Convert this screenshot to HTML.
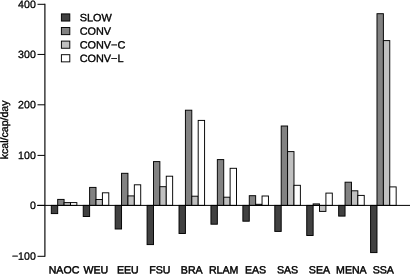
<!DOCTYPE html><html><head><meta charset="utf-8"><title>chart</title><style>html,body{margin:0;padding:0;background:#fff}svg{display:block}text{font-family:"Liberation Sans",Arial,sans-serif;font-size:10.6px;fill:#000;stroke:#000;stroke-width:0.28px}</style></head><body>
<svg width="410" height="274" viewBox="0 0 410 274">
<rect width="410" height="274" fill="#fff"/>
<rect x="51.30" y="205.40" width="6.39" height="8.20" fill="#414141" stroke="#000" stroke-width="0.95"/>
<rect x="57.69" y="199.40" width="6.39" height="6.00" fill="#828282" stroke="#000" stroke-width="0.95"/>
<rect x="64.08" y="202.60" width="6.39" height="2.80" fill="#c0c0c0" stroke="#000" stroke-width="0.95"/>
<rect x="70.47" y="202.60" width="6.39" height="2.80" fill="#ffffff" stroke="#000" stroke-width="0.95"/>
<rect x="83.23" y="205.40" width="6.39" height="11.10" fill="#414141" stroke="#000" stroke-width="0.95"/>
<rect x="89.62" y="187.40" width="6.39" height="18.00" fill="#828282" stroke="#000" stroke-width="0.95"/>
<rect x="96.01" y="199.50" width="6.39" height="5.90" fill="#c0c0c0" stroke="#000" stroke-width="0.95"/>
<rect x="102.40" y="192.80" width="6.39" height="12.60" fill="#ffffff" stroke="#000" stroke-width="0.95"/>
<rect x="115.16" y="205.40" width="6.39" height="23.60" fill="#414141" stroke="#000" stroke-width="0.95"/>
<rect x="121.55" y="173.30" width="6.39" height="32.10" fill="#828282" stroke="#000" stroke-width="0.95"/>
<rect x="127.94" y="195.90" width="6.39" height="9.50" fill="#c0c0c0" stroke="#000" stroke-width="0.95"/>
<rect x="134.33" y="184.80" width="6.39" height="20.60" fill="#ffffff" stroke="#000" stroke-width="0.95"/>
<rect x="147.09" y="205.40" width="6.39" height="39.20" fill="#414141" stroke="#000" stroke-width="0.95"/>
<rect x="153.48" y="161.60" width="6.39" height="43.80" fill="#828282" stroke="#000" stroke-width="0.95"/>
<rect x="159.87" y="186.70" width="6.39" height="18.70" fill="#c0c0c0" stroke="#000" stroke-width="0.95"/>
<rect x="166.26" y="176.20" width="6.39" height="29.20" fill="#ffffff" stroke="#000" stroke-width="0.95"/>
<rect x="179.02" y="205.40" width="6.39" height="28.10" fill="#414141" stroke="#000" stroke-width="0.95"/>
<rect x="185.41" y="110.20" width="6.39" height="95.20" fill="#828282" stroke="#000" stroke-width="0.95"/>
<rect x="191.80" y="196.20" width="6.39" height="9.20" fill="#c0c0c0" stroke="#000" stroke-width="0.95"/>
<rect x="198.19" y="120.40" width="6.39" height="85.00" fill="#ffffff" stroke="#000" stroke-width="0.95"/>
<rect x="210.95" y="205.40" width="6.39" height="18.80" fill="#414141" stroke="#000" stroke-width="0.95"/>
<rect x="217.34" y="159.60" width="6.39" height="45.80" fill="#828282" stroke="#000" stroke-width="0.95"/>
<rect x="223.73" y="197.20" width="6.39" height="8.20" fill="#c0c0c0" stroke="#000" stroke-width="0.95"/>
<rect x="230.12" y="168.30" width="6.39" height="37.10" fill="#ffffff" stroke="#000" stroke-width="0.95"/>
<rect x="242.88" y="205.40" width="6.39" height="15.80" fill="#414141" stroke="#000" stroke-width="0.95"/>
<rect x="249.27" y="195.70" width="6.39" height="9.70" fill="#828282" stroke="#000" stroke-width="0.95"/>
<rect x="255.66" y="204.30" width="6.39" height="1.10" fill="#c0c0c0" stroke="#000" stroke-width="0.95"/>
<rect x="262.05" y="196.00" width="6.39" height="9.40" fill="#ffffff" stroke="#000" stroke-width="0.95"/>
<rect x="274.81" y="205.40" width="6.39" height="26.00" fill="#414141" stroke="#000" stroke-width="0.95"/>
<rect x="281.20" y="126.00" width="6.39" height="79.40" fill="#828282" stroke="#000" stroke-width="0.95"/>
<rect x="287.59" y="151.60" width="6.39" height="53.80" fill="#c0c0c0" stroke="#000" stroke-width="0.95"/>
<rect x="293.98" y="185.30" width="6.39" height="20.10" fill="#ffffff" stroke="#000" stroke-width="0.95"/>
<rect x="306.74" y="205.40" width="6.39" height="30.10" fill="#414141" stroke="#000" stroke-width="0.95"/>
<rect x="313.13" y="203.90" width="6.39" height="1.50" fill="#828282" stroke="#000" stroke-width="0.95"/>
<rect x="319.52" y="205.40" width="6.39" height="6.00" fill="#c0c0c0" stroke="#000" stroke-width="0.95"/>
<rect x="325.91" y="193.10" width="6.39" height="12.30" fill="#ffffff" stroke="#000" stroke-width="0.95"/>
<rect x="338.67" y="205.40" width="6.39" height="10.70" fill="#414141" stroke="#000" stroke-width="0.95"/>
<rect x="345.06" y="182.20" width="6.39" height="23.20" fill="#828282" stroke="#000" stroke-width="0.95"/>
<rect x="351.45" y="190.80" width="6.39" height="14.60" fill="#c0c0c0" stroke="#000" stroke-width="0.95"/>
<rect x="357.84" y="195.40" width="6.39" height="10.00" fill="#ffffff" stroke="#000" stroke-width="0.95"/>
<rect x="370.60" y="205.40" width="6.39" height="47.20" fill="#414141" stroke="#000" stroke-width="0.95"/>
<rect x="376.99" y="13.70" width="6.39" height="191.70" fill="#828282" stroke="#000" stroke-width="0.95"/>
<rect x="383.38" y="40.60" width="6.39" height="164.80" fill="#c0c0c0" stroke="#000" stroke-width="0.95"/>
<rect x="389.77" y="186.90" width="6.39" height="18.50" fill="#ffffff" stroke="#000" stroke-width="0.95"/>
<line x1="37.2" y1="205.4" x2="410" y2="205.4" stroke="#000" stroke-width="1.0"/>
<line x1="44.9" y1="3.8" x2="44.9" y2="256.8" stroke="#000" stroke-width="1.15"/>
<line x1="37.5" y1="4.30" x2="44.9" y2="4.30" stroke="#000" stroke-width="1.0"/>
<text transform="translate(35.80,8.10) rotate(0.05)" text-anchor="end">400</text>
<line x1="37.5" y1="54.45" x2="44.9" y2="54.45" stroke="#000" stroke-width="1.0"/>
<text transform="translate(35.80,57.95) rotate(0.05)" text-anchor="end">300</text>
<line x1="37.5" y1="104.80" x2="44.9" y2="104.80" stroke="#000" stroke-width="1.0"/>
<text transform="translate(35.80,108.30) rotate(0.05)" text-anchor="end">200</text>
<line x1="37.5" y1="155.40" x2="44.9" y2="155.40" stroke="#000" stroke-width="1.0"/>
<text transform="translate(35.80,158.90) rotate(0.05)" text-anchor="end">100</text>
<line x1="37.5" y1="205.40" x2="44.9" y2="205.40" stroke="#000" stroke-width="1.0"/>
<text transform="translate(35.80,208.90) rotate(0.05)" text-anchor="end">0</text>
<line x1="37.5" y1="256.30" x2="44.9" y2="256.30" stroke="#000" stroke-width="1.0"/>
<text transform="translate(35.80,259.80) rotate(0.05)" text-anchor="end">−100</text>
<text transform="translate(63.98,273.60) rotate(0.05)" text-anchor="middle" style="stroke-width:0.45px">NAOC</text>
<text transform="translate(95.91,273.60) rotate(0.05)" text-anchor="middle" style="stroke-width:0.45px">WEU</text>
<text transform="translate(127.84,273.60) rotate(0.05)" text-anchor="middle" style="stroke-width:0.45px">EEU</text>
<text transform="translate(159.77,273.60) rotate(0.05)" text-anchor="middle" style="stroke-width:0.45px">FSU</text>
<text transform="translate(191.70,273.60) rotate(0.05)" text-anchor="middle" style="stroke-width:0.45px">BRA</text>
<text transform="translate(223.63,273.60) rotate(0.05)" text-anchor="middle" style="stroke-width:0.45px">RLAM</text>
<text transform="translate(255.56,273.60) rotate(0.05)" text-anchor="middle" style="stroke-width:0.45px">EAS</text>
<text transform="translate(287.49,273.60) rotate(0.05)" text-anchor="middle" style="stroke-width:0.45px">SAS</text>
<text transform="translate(319.42,273.60) rotate(0.05)" text-anchor="middle" style="stroke-width:0.45px">SEA</text>
<text transform="translate(351.35,273.60) rotate(0.05)" text-anchor="middle" style="stroke-width:0.45px">MENA</text>
<text transform="translate(383.28,273.60) rotate(0.05)" text-anchor="middle" style="stroke-width:0.45px">SSA</text>
<text transform="translate(8.00,129.90) rotate(-90.05)" text-anchor="middle" style="stroke-width:0.34px">kcal/cap/day</text>
<rect x="61.4" y="13.90" width="8.4" height="7.15" fill="#414141" stroke="#000" stroke-width="0.95"/>
<text transform="translate(79.70,21.25) rotate(0.05) scale(1.025,1)" style="stroke-width:0.34px">SLOW</text>
<rect x="61.4" y="27.50" width="8.4" height="7.15" fill="#828282" stroke="#000" stroke-width="0.95"/>
<text transform="translate(79.70,34.85) rotate(0.05) scale(1.025,1)" style="stroke-width:0.34px">CONV</text>
<rect x="61.4" y="41.10" width="8.4" height="7.15" fill="#c0c0c0" stroke="#000" stroke-width="0.95"/>
<text transform="translate(79.70,48.45) rotate(0.05) scale(1.025,1)" style="stroke-width:0.34px">CONV−C</text>
<rect x="61.4" y="54.70" width="8.4" height="7.15" fill="#ffffff" stroke="#000" stroke-width="0.95"/>
<text transform="translate(79.70,62.05) rotate(0.05) scale(1.025,1)" style="stroke-width:0.34px">CONV−L</text>
</svg></body></html>
